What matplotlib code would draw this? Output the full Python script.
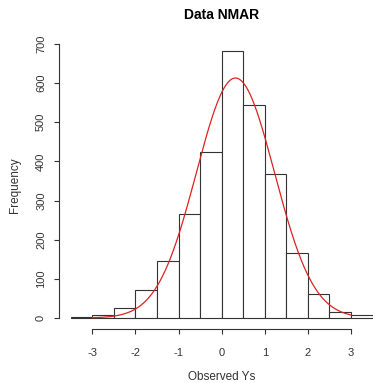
import numpy as np
import matplotlib
matplotlib.use("Agg")
import matplotlib.pyplot as plt

# histogram of observed Ys (bins of width 0.5)
bin_edges = [-3.5, -3.0, -2.5, -2.0, -1.5, -1.0, -0.5, 0.0, 0.5, 1.0, 1.5, 2.0, 2.5, 3.0, 3.5]
counts = [2, 7, 25, 72, 145, 265, 424, 681, 545, 368, 167, 60, 14, 7]

# fitted normal curve parameters
fit_mean = 0.32
fit_sd = 0.905

x_ticks = [-3, -2, -1, 0, 1, 2, 3]
y_ticks = [0, 100, 200, 300, 400, 500, 600, 700]

plt.rcParams['font.family'] = ['Liberation Sans', 'DejaVu Sans']

fig = plt.figure(figsize=(3.73, 3.83), dpi=100)
ax = fig.add_axes([0.1574, 0.142, 0.8737, 0.7512])

lefts = bin_edges[:-1]
widths = np.diff(bin_edges)
ax.bar(lefts, counts, width=widths, align='edge', color='white',
       edgecolor='#333333', linewidth=0.8)

bw = widths[0]
n_total = sum(counts)
xs = np.linspace(-3, 3, 300)
dens = np.exp(-0.5 * ((xs - fit_mean) / fit_sd) ** 2) / (fit_sd * np.sqrt(2 * np.pi))
ax.plot(xs, dens * n_total * bw, color='#dd2222', linewidth=0.9)

ax.set_xlim(-3.78, 3.78)
ax.set_ylim(-27.2, 708)

for side in ['top', 'right']:
    ax.spines[side].set_visible(False)
ax.spines['left'].set_bounds(0, 700)
ax.spines['bottom'].set_bounds(-3, 3)
for side in ['left', 'bottom']:
    ax.spines[side].set_color('#333333')
    ax.spines[side].set_linewidth(0.8)

ax.set_xticks(x_ticks)
ax.set_xticklabels([str(t) for t in x_ticks])
ax.set_yticks(y_ticks)
ax.set_yticklabels([str(t) for t in y_ticks], rotation=90, va='center')
ax.tick_params(axis='both', length=3.6, width=0.8, color='#333333',
               labelsize=8, labelcolor='#333333')
ax.tick_params(axis='x', pad=10.5)
ax.tick_params(axis='y', pad=5.5)

ax.set_xlabel("Observed Ys", fontsize=8.5, color='#333333', labelpad=9.5)
ax.set_ylabel("Frequency", fontsize=8.5, color='#333333', labelpad=11)
fig.text(0.593, 0.962, "Data NMAR", fontsize=10, fontweight='bold',
         ha='center', va='center')

fig.savefig("out.png", dpi=100)
